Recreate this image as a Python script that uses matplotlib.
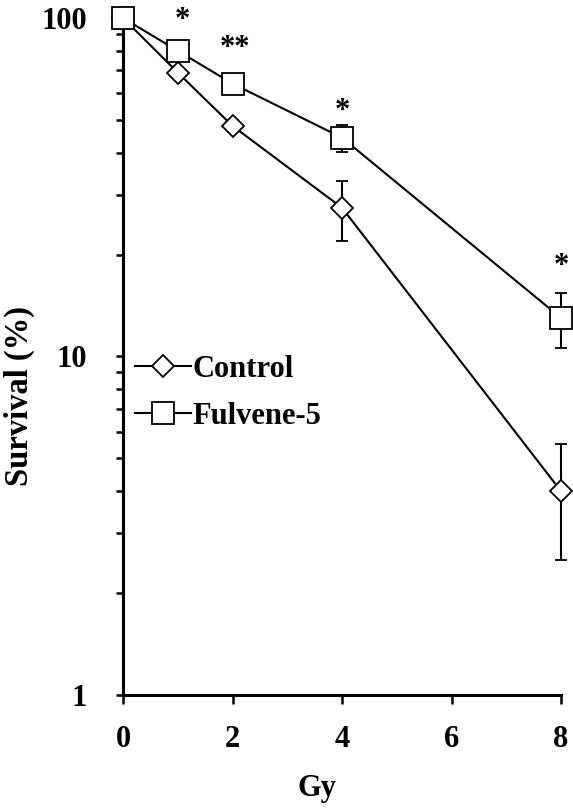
import matplotlib
matplotlib.use('Agg')
import matplotlib.pyplot as plt
from matplotlib.ticker import FixedLocator, FixedFormatter, LogLocator, NullFormatter

plt.rcParams['font.family'] = ['Liberation Serif', 'DejaVu Serif']
plt.rcParams['font.weight'] = 'bold'

dose = [0, 1, 2, 4, 8]
control = [100, 69, 48, 27.5, 4.0]
control_err = [0, 1.5, 2.0, 5.5, 1.5]
fulvene = [100, 80, 64, 44.3, 13.0]
fulvene_err = [0, 2.0, 2.0, 4.0, 2.4]

# significance marks: (dose, y, label)
stars = [(1.08, 98, '*'), (2.05, 81, '**'), (4, 53, '*'), (8, 18.5, '*')]

fig = plt.figure(figsize=(5.73, 8.08), dpi=100)
ax = fig.add_axes([0.2147, 0.1399, 0.7644, 0.8378])

c = ax.errorbar(dose, control, yerr=control_err, fmt='-', color='black', lw=1.5,
                marker='D', ms=11.5, mfc='white', mec='black', mew=1.3,
                capsize=4.6, elinewidth=1.5, capthick=1.5,
                clip_on=False, zorder=3)
f = ax.errorbar(dose, fulvene, yerr=fulvene_err, fmt='-', color='black', lw=1.5,
                marker='s', ms=15.5, mfc='white', mec='black', mew=1.3,
                capsize=4.6, elinewidth=1.5, capthick=1.5,
                clip_on=False, zorder=3)

for x, y, s in stars:
    ax.text(x, y, s, ha='center', va='center', fontsize=22, fontweight='bold')

ax.set_yscale('log')
ax.set_ylim(1, 100)
ax.set_xlim(0, 8)
ax.set_xticks([0, 2, 4, 6, 8])
ax.yaxis.set_major_locator(FixedLocator([1, 10, 100]))
ax.yaxis.set_major_formatter(FixedFormatter(['1', '10', '100']))
ax.yaxis.set_minor_locator(LogLocator(base=10, subs=range(2, 10)))
ax.yaxis.set_minor_formatter(NullFormatter())

for side in ['top', 'right']:
    ax.spines[side].set_visible(False)
for side in ['left', 'bottom']:
    ax.spines[side].set_linewidth(2.2)

ax.tick_params(axis='y', which='both', direction='out', length=5, width=1.8,
               labelsize=22, pad=21)
ax.tick_params(axis='x', which='major', direction='out', length=6.5, width=1.8,
               labelsize=22, pad=15)

ax.set_xlabel('Gy', fontsize=22, fontweight='bold')
ax.set_ylabel('Survival (%)', fontsize=23.5, fontweight='bold')
ax.xaxis.set_label_coords(0.443, -0.117)
ax.yaxis.set_label_coords(-0.2, 0.442)

leg = ax.legend([c.lines[0], f.lines[0]], ['Control', 'Fulvene-5'],
                loc='upper left', bbox_to_anchor=(0.027, 0.502), frameon=False,
                handlelength=1.85, handletextpad=0.05,
                labelspacing=0.58, borderpad=0, borderaxespad=0,
                prop={'weight': 'bold', 'size': 22})

fig.savefig('out.png', dpi=100)
